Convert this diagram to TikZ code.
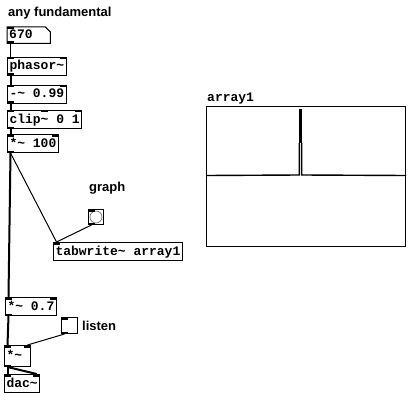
\documentclass[tikz,border=0pt]{standalone}
\usepackage{fontspec}
\usepackage{tikz}
\usetikzlibrary{calc,positioning}
\newfontfamily\pdmonofamily{Liberation Mono}
\newfontfamily\pdsansfamily{Liberation Sans}
\newcommand\pdmono{\pdmonofamily\bfseries\fontsize{13}{13}\selectfont}
\newcommand\pdsans{\pdsansfamily\bfseries\fontsize{13}{13}\selectfont}
% inlets and outlets of a box
\newcommand\pdin[2]{\foreach \f in {#2}{\fill ($(#1.north west)!\f!(#1.north east)+(-7*\f,0)$) rectangle ++(7,2.5);}}
\newcommand\pdout[2]{\foreach \f in {#2}{\fill ($(#1.south west)!\f!(#1.south east)+(-7*\f,0)$) rectangle ++(7,-2.5);}}

\begin{document}
\begin{tikzpicture}[x=1pt, y=-1pt,
  pdbox/.style={draw, line width=1pt, font=\pdmono, anchor=north west, inner xsep=2pt, inner ysep=0pt,
    minimum height=18pt, text height=9.5pt, text depth=2.5pt},
  pdlabel/.style={font=\pdsans, inner sep=0pt, anchor=north west},
  pdgui/.style={draw, line width=1pt, inner sep=0pt, anchor=north west},
  sigwire/.style={line width=2pt},
  ctlwire/.style={line width=1pt}]
\useasboundingbox (0,0) rectangle (409,401);

% Oscillator chain
\node[pdlabel] (title) at (8,7) {any fundamental};
\node[font=\pdmono, anchor=north west, inner xsep=2pt, inner ysep=0pt, minimum height=16pt,
  text height=9.5pt, text depth=2.5pt, text width=39pt, align=left] (freq) at (7,27) {670};
\draw[line width=1pt] (freq.north west) -- ([xshift=-5pt]freq.north east) -- ([yshift=-5pt]freq.north east)
  -- (freq.south east) -- (freq.south west) -- cycle;
\node[pdbox] (phasor) at (7,57) {phasor\textasciitilde};
\node[pdbox] (sub) at (7,85) {-\textasciitilde{} 0.99};
\node[pdbox] (clip) at (7,110) {clip\textasciitilde{} 0 1};
\node[pdbox] (gain) at (7,134) {*\textasciitilde{} 100};

% Table writer with its bang
\node[pdlabel] (graphlbl) at (89,182) {graph};
\node[pdgui, minimum size=15pt] (bng) at (88,209) {};
\draw[line width=0.6pt, black!60] (bng.center) circle[radius=6pt];
\node[pdbox] (tabw) at (53,242) {tabwrite\textasciitilde{} array1};

% Output stage
\node[pdbox] (level) at (5,297) {*\textasciitilde{} 0.7};
\node[pdgui, minimum size=16pt] (tgl) at (61,317) {};
\node[pdlabel, anchor=west, right=4pt of tgl] (listenlbl) {listen};
\node[pdbox, minimum height=21pt, text width=22pt, align=left] (mul) at (4,345) {*\textasciitilde};
\node[pdbox] (dac) at (4,374) {dac\textasciitilde};

% Array display
\node[pdgui, minimum width=199pt, minimum height=140pt] (arr) at (206,106) {};
\node[font=\pdmono, inner sep=0pt, above right=2pt and 1pt of arr.north west] (arrlbl) {array1};
\fill (298.6,109) rectangle (302.4,143);
\draw[line width=1.4pt] ($(arr.west)+(0,-1)$) -- (299.3,175) -- (299.3,143);
\draw[line width=1.4pt] (301.7,143) -- (301.7,175) -- ($(arr.east)+(0,-1)$);

% Ports
\pdin{freq}{0} \pdout{freq}{0}
\pdin{phasor}{0,1} \pdout{phasor}{0}
\pdin{sub}{0,1} \pdout{sub}{0}
\pdin{clip}{0,0.5,1} \pdout{clip}{0}
\pdin{gain}{0,1} \pdout{gain}{0}
\pdin{bng}{0} \pdout{bng}{0}
\pdin{tabw}{0}
\pdin{level}{0,1} \pdout{level}{0}
\pdin{tgl}{0} \pdout{tgl}{0}
\pdin{mul}{0,1} \pdout{mul}{0}
\pdin{dac}{0,1}

% Wires
\draw[ctlwire] ([xshift=3.5pt]freq.south west) -- ([xshift=3.5pt]phasor.north west);
\draw[sigwire] ([xshift=3.5pt]phasor.south west) -- ([xshift=3.5pt]sub.north west);
\draw[sigwire] ([xshift=3.5pt]sub.south west) -- ([xshift=3.5pt]clip.north west);
\draw[sigwire] ([xshift=3.5pt]clip.south west) -- ([xshift=3.5pt]gain.north west);
\draw[ctlwire] ([xshift=3.5pt]gain.south west) -- ([xshift=3.5pt]tabw.north west);
\draw[sigwire] ([xshift=3.5pt]gain.south west) -- ([xshift=3.5pt]level.north west);
\draw[ctlwire] ([xshift=3.5pt]bng.south west) -- ([xshift=3.5pt]tabw.north west);
\draw[sigwire] ([xshift=3.5pt]level.south west) -- ([xshift=3.5pt]mul.north west);
\draw[ctlwire] ([xshift=3.5pt]tgl.south west) -- ([xshift=-3.5pt]mul.north east);
\draw[sigwire] ([xshift=3.5pt]mul.south west) -- ([xshift=3.5pt]dac.north west);
\draw[sigwire] ([xshift=3.5pt]mul.south west) -- ([xshift=-3.5pt]dac.north east);
\end{tikzpicture}
\end{document}
